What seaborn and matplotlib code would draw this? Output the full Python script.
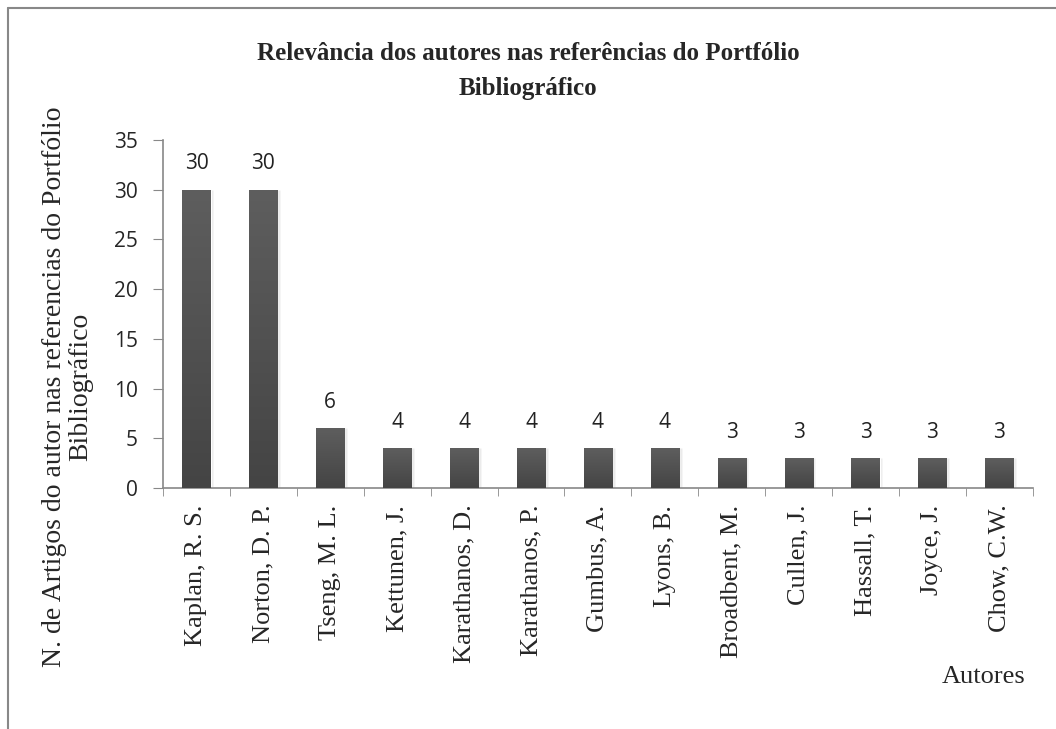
import numpy as np
import pandas as pd
import seaborn as sns
import matplotlib.pyplot as plt
from matplotlib.lines import Line2D

autores = ["Kaplan, R. S.", "Norton, D. P.", "Tseng, M. L.", "Kettunen, J.",
           "Karathanos, D.", "Karathanos, P.", "Gumbus, A.", "Lyons, B.",
           "Broadbent, M.", "Cullen, J.", "Hassall, T.", "Joyce, J.", "Chow, C.W."]
artigos = [30, 30, 6, 4, 4, 4, 4, 4, 3, 3, 3, 3, 3]
yticks = [0, 5, 10, 15, 20, 25, 30, 35]

df = pd.DataFrame({"autor": autores, "n": artigos})

sns.set_style("white")
serif = ["Liberation Serif", "DejaVu Serif"]
sans = ["Open Sans", "DejaVu Sans"]

fig = plt.figure(figsize=(10.56, 7.29), dpi=100)
ax = fig.add_axes([0.1544, 0.3306, 0.8236, 0.4774])

sns.barplot(data=df, x="autor", y="n", color="#505050", width=0.42,
            saturation=1, ax=ax, zorder=2)

# vertical gradient on each bar
grad = np.linspace(0, 1, 256).reshape(-1, 1)
cmap = plt.matplotlib.colors.LinearSegmentedColormap.from_list("g", ["#444444", "#5e5e5e"])
for p in ax.patches:
    x0, y0 = p.get_x(), p.get_y()
    w, h = p.get_width(), p.get_height()
    im = ax.imshow(grad, cmap=cmap, aspect="auto", origin="lower",
                   extent=[x0, x0 + w, y0, y0 + h], zorder=3)
    im.set_clip_path(p)
    ax.bar(x0 + w / 2 + 0.04, h, width=w, bottom=0, color="#000000", alpha=0.08, zorder=1)

for i, v in enumerate(artigos):
    ax.text(i, v + 2.6, str(v), ha="center", va="center", fontsize=15, family=sans, color="#222222")

ax.set_xlim(-0.5, len(autores) - 0.5)
ax.set_ylim(0, 35)
ax.set_yticks(yticks)
ax.set_yticklabels([str(t) for t in yticks], fontsize=15, family=sans)
ax.set_xticks(range(len(autores)))
ax.set_xticklabels(autores, rotation=90, fontsize=19, family=serif)
ax.set_xticks(np.arange(-0.5, len(autores), 1), minor=True)
ax.tick_params(axis="x", which="major", length=0, pad=12)
ax.tick_params(axis="x", which="minor", length=6, color="#888888", direction="out", bottom=True)
ax.tick_params(axis="y", length=7, color="#888888", direction="out", left=True, pad=11)
for s in ["top", "right"]:
    ax.spines[s].set_visible(False)
for s in ["left", "bottom"]:
    ax.spines[s].set_color("#888888")
    ax.spines[s].set_linewidth(1.2)
ax.set_xlabel("")
ax.set_ylabel("")

fig.text(0.5, 0.903, "Relevância dos autores nas referências do Portfólio\nBibliográfico",
         ha="center", va="center", fontsize=18, fontweight="bold", family=serif,
         linespacing=1.65)
fig.text(0.064, 0.469, "N. de Artigos do autor nas referencias do Portfólio\nBibliográfico",
         rotation=90, ha="center", va="center", fontsize=20, family=serif, linespacing=1.1)
fig.text(0.931, 0.071, "Autores", ha="center", va="center", fontsize=19, family=serif)

fig.add_artist(Line2D([8 / 1056, 8 / 1056], [0, 1 - 8 / 729], transform=fig.transFigure,
                      color="#888888", lw=1.5))
fig.add_artist(Line2D([8 / 1056, 1], [1 - 8 / 729, 1 - 8 / 729], transform=fig.transFigure,
                      color="#888888", lw=1.5))

fig.savefig("out.png", dpi=100)
